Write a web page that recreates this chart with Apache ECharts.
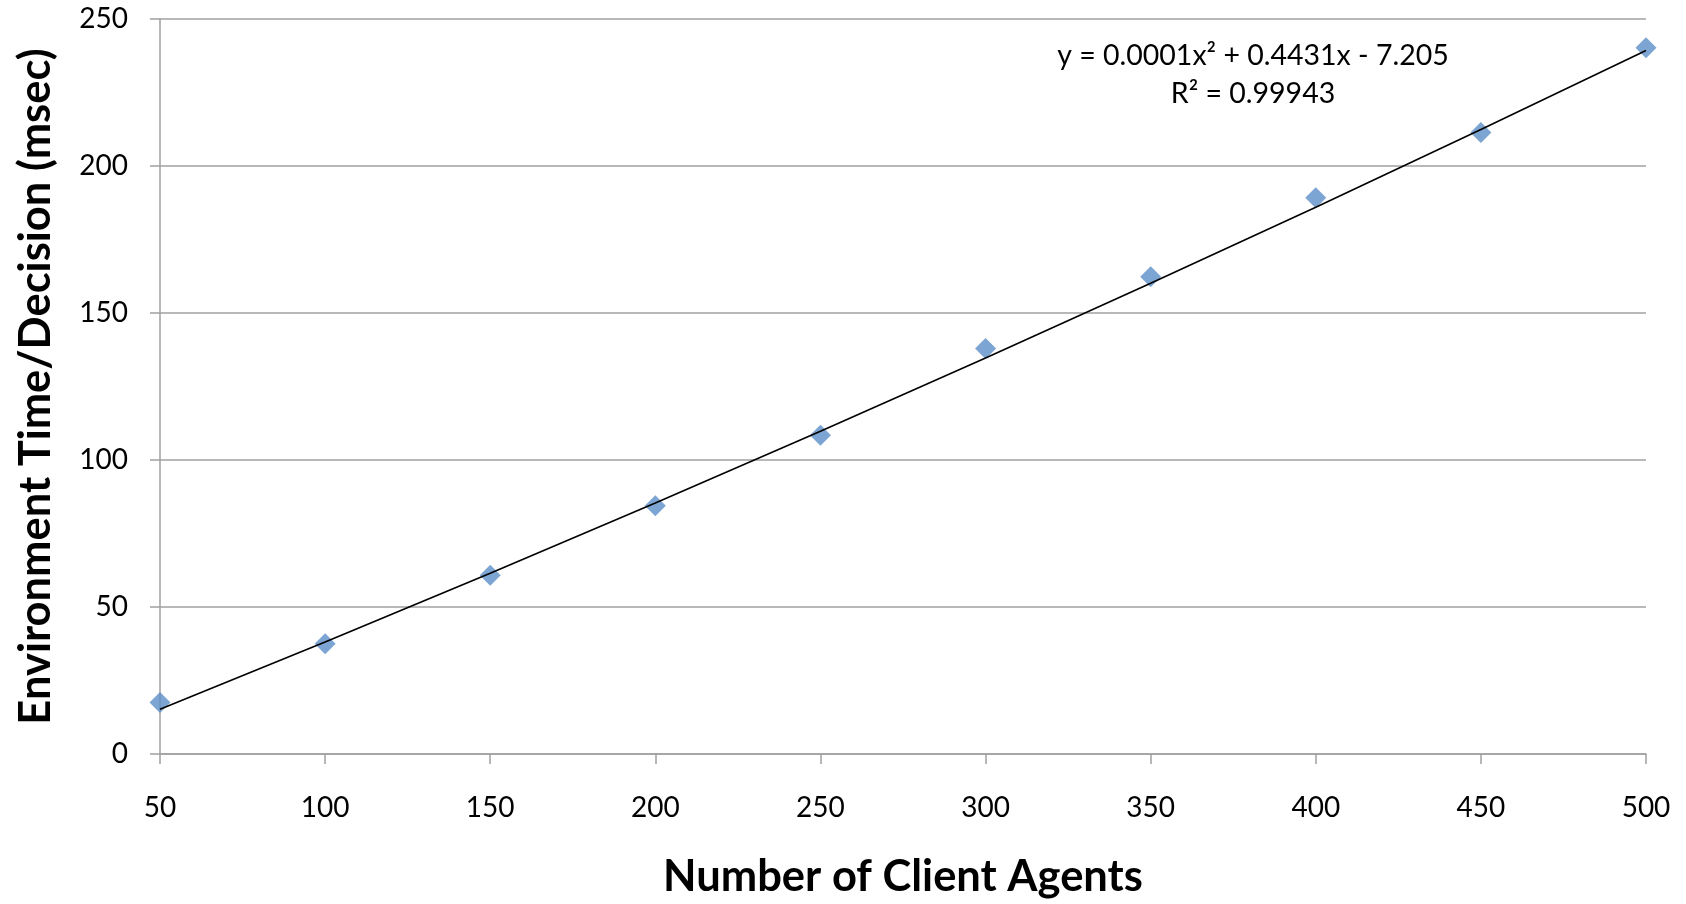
<!DOCTYPE html>
<html>
<head>
<meta charset="utf-8">
<script src="https://cdn.jsdelivr.net/npm/echarts@6/dist/echarts.min.js"></script>
<style>
html,body{margin:0;padding:0;background:#fff;}
#chart{width:1686px;height:904px;}
</style>
</head>
<body>
<div id="chart"></div>
<script>
// Data
const agents = [50, 100, 150, 200, 250, 300, 350, 400, 450, 500];
const envTime = [17.5, 37.5, 60.8, 84.4, 108.4, 137.9, 162.3, 189.2, 211.4, 240.2];
// Polynomial trendline values as labelled on the chart (y = 0.0001x² + 0.4431x - 7.205)
const trendValues = [15.2, 38.1, 61.5, 85.4, 109.8, 134.7, 160.1, 186.0, 212.4, 239.3];
const equationLines = ['y = 0.0001x² + 0.4431x - 7.205', 'R² = 0.99943'];
const xTitle = 'Number of Client Agents';
const yTitle = 'Environment Time/Decision (msec)';

const FONT = 'Lato';
const chart = echarts.init(document.getElementById('chart'));
chart.setOption({
  animation: false,
  backgroundColor: '#ffffff',
  grid: { left: 160, right: 40, top: 19, bottom: 147, containLabel: false },
  title: {
    text: equationLines.join('\n'),
    left: 1248, top: 32,
    textAlign: 'center',
    textStyle: { fontFamily: FONT, fontSize: 28.5, fontWeight: 'normal', color: '#000', lineHeight: 38 }
  },
  xAxis: {
    type: 'value', min: 50, max: 500, interval: 50,
    name: xTitle, nameLocation: 'middle', nameGap: 101,
    nameTextStyle: { fontFamily: FONT, fontSize: 43.5, fontWeight: 'bold', color: '#000' },
    axisLine: { show: true, lineStyle: { color: '#a0a0a0', width: 1.5 } },
    axisTick: { show: true, length: 10, inside: false, lineStyle: { color: '#a0a0a0', width: 1.5 } },
    axisLabel: { fontFamily: FONT, fontSize: 28, color: '#000', margin: 40 },
    splitLine: { show: false }
  },
  yAxis: {
    type: 'value', min: 0, max: 250, interval: 50,
    name: yTitle, nameLocation: 'middle', nameGap: 102, nameRotate: 90,
    nameTextStyle: { fontFamily: FONT, fontSize: 43.5, fontWeight: 'bold', color: '#000' },
    axisLine: { show: true, lineStyle: { color: '#a0a0a0', width: 1.5 } },
    axisTick: { show: true, length: 10, inside: false, lineStyle: { color: '#a0a0a0', width: 1.5 } },
    axisLabel: { fontFamily: FONT, fontSize: 28, color: '#000', margin: 32 },
    splitLine: { show: true, lineStyle: { color: '#a0a0a0', width: 1.5 } }
  },
  series: [
    {
      name: 'Trend', type: 'line', z: 3,
      data: agents.map((x, i) => [x, trendValues[i]]),
      showSymbol: false, symbol: 'none',
      lineStyle: { color: '#000', width: 1.6 }
    },
    {
      name: 'Env time', type: 'scatter', z: 2,
      data: agents.map((x, i) => [x, envTime[i]]),
      symbol: 'diamond', symbolSize: 21,
      itemStyle: { color: '#5b8fc8' }
    }
  ]
});
</script>
</body>
</html>
